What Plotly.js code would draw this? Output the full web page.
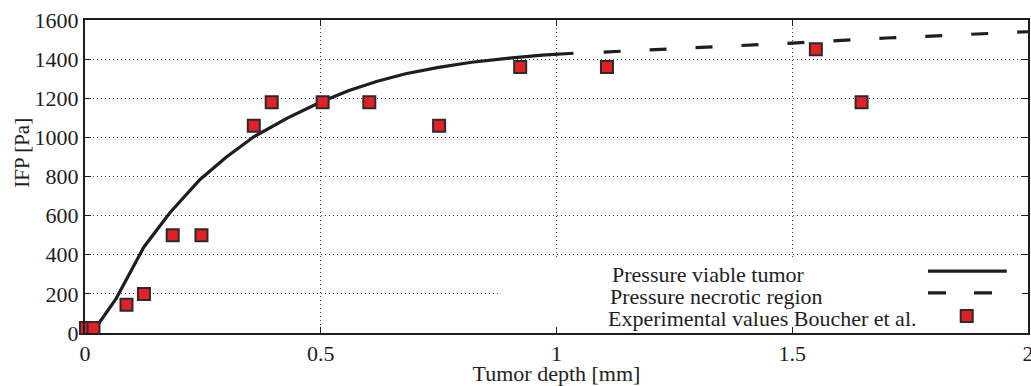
<!DOCTYPE html>
<html>
<head>
<meta charset="utf-8">
<script src="https://cdn.plot.ly/plotly-3.0.1.min.js"></script>
<style>
  html, body { margin: 0; padding: 0; background: #fff; }
  #chart { width: 1031px; height: 386px; }
</style>
</head>
<body>
<div id="chart"></div>
<script>
// Interstitial fluid pressure versus depth into the tumor
const expDepth = [0.002, 0.018, 0.088, 0.125, 0.186, 0.247, 0.358, 0.396, 0.504, 0.603, 0.751, 0.923, 1.107, 1.550, 1.647];
const expIFP   = [25, 25, 145, 200, 500, 500, 1060, 1180, 1180, 1180, 1060, 1360, 1360, 1450, 1180];

const viableDepth = [0.015, 0.066, 0.125, 0.18, 0.244, 0.30, 0.358, 0.43, 0.5, 0.56, 0.62, 0.68, 0.75, 0.82, 0.9, 0.97, 1.036];
const viableIFP   = [0, 176, 440, 615, 785, 900, 1003, 1100, 1181, 1240, 1287, 1325, 1358, 1384, 1405, 1420, 1430];

const necroticDepth = [1.1, 1.3, 1.5, 1.7, 1.9, 2.0];
const necroticIFP   = [1436, 1458, 1482, 1508, 1530, 1540];

const xTicks = [0, 0.5, 1, 1.5, 2];
const xTickText = ['0', '0.5', '1', '1.5', '2'];
const yTicks = [0, 200, 400, 600, 800, 1000, 1200, 1400, 1600];

const legendLabels = ['Pressure viable tumor', 'Pressure necrotic region', 'Experimental values Boucher et al.'];

const ink = '#1e1e1e';
const serif = 'Liberation Serif, Times New Roman, serif';
const red = '#e42027';

const traces = [
  {
    x: viableDepth, y: viableIFP, mode: 'lines', type: 'scatter',
    line: { color: ink, width: 3.2 }, hoverinfo: 'skip'
  },
  {
    x: necroticDepth, y: necroticIFP, mode: 'lines', type: 'scatter',
    line: { color: ink, width: 3.2, dash: '17px,29px' }, hoverinfo: 'skip'
  },
  {
    x: expDepth, y: expIFP, mode: 'markers', type: 'scatter', cliponaxis: false,
    marker: { symbol: 'square', size: 12, color: red, line: { color: '#2b2b2b', width: 2 } }
  }
];

// key block in the lower right corner (text first, sample mark after it)
const rowY = [300, 188, 75];
const textX = [1.113, 1.109, 1.105];
const keyX0 = 1.788, keyX1 = 1.955, keyX1Dash = 1.927, keySquareX = 1.870;

const annotations = legendLabels.map((t, i) => ({
  text: t, x: textX[i], y: rowY[i], xref: 'x', yref: 'y',
  xanchor: 'left', yanchor: 'middle', showarrow: false,
  font: { family: serif, size: 22, color: ink }
}));

// y-axis title placed by hand so it sits close to the tick labels
annotations.push({
  text: 'IFP [Pa]', xref: 'paper', yref: 'paper', x: -0.0672, y: 0.575,
  xanchor: 'center', yanchor: 'middle', textangle: -90, showarrow: false,
  font: { family: serif, size: 21, color: ink }
});

const shapes = [
  { type: 'rect', layer: 'between', xref: 'x', yref: 'y', x0: 0.88, x1: 2, y0: 0, y1: 382,
    fillcolor: '#ffffff', line: { width: 0 } },
  { type: 'line', xref: 'x', yref: 'y', x0: keyX0, x1: keyX1, y0: rowY[0] + 16, y1: rowY[0] + 16,
    line: { color: ink, width: 3.2 } },
  { type: 'line', xref: 'x', yref: 'y', x0: keyX0, x1: keyX1Dash, y0: rowY[1] + 17, y1: rowY[1] + 17,
    line: { color: ink, width: 3.2, dash: '18px,28px' } },
  { type: 'rect', xref: 'x', yref: 'y', xsizemode: 'pixel', ysizemode: 'pixel',
    xanchor: keySquareX, yanchor: rowY[2] + 12, x0: -6, x1: 6, y0: -6, y1: 6,
    fillcolor: red, line: { color: '#2b2b2b', width: 2 } }
];

const layout = {
  width: 1031, height: 386,
  margin: { l: 85, r: 3, t: 20, b: 53 },
  paper_bgcolor: '#ffffff', plot_bgcolor: '#ffffff',
  showlegend: false,
  font: { family: serif, size: 22, color: ink },
  xaxis: {
    range: [0, 2], tickvals: xTicks, ticktext: xTickText,
    showgrid: true, gridcolor: '#3a3a3a', gridwidth: 1, griddash: '1px,3px',
    zeroline: false, showline: true, linecolor: ink, linewidth: 2, mirror: 'ticks',
    ticks: 'inside', ticklen: 6, tickcolor: ink, tickwidth: 1,
    ticklabeloverflow: 'allow',
    tickfont: { family: serif, size: 22, color: ink },
    title: { text: 'Tumor depth [mm]', font: { family: serif, size: 22, color: ink }, standoff: 0 }
  },
  yaxis: {
    range: [0, 1600], tickvals: yTicks,
    showgrid: true, gridcolor: '#3a3a3a', gridwidth: 1, griddash: '1px,3px',
    zeroline: false, showline: true, linecolor: ink, linewidth: 2, mirror: 'ticks',
    ticks: 'inside', ticklen: 6, tickcolor: ink, tickwidth: 1,
    tickfont: { family: serif, size: 22, color: ink }
  },
  annotations: annotations,
  shapes: shapes
};

Plotly.newPlot('chart', traces, layout, { staticPlot: true, displayModeBar: false });
</script>
</body>
</html>
